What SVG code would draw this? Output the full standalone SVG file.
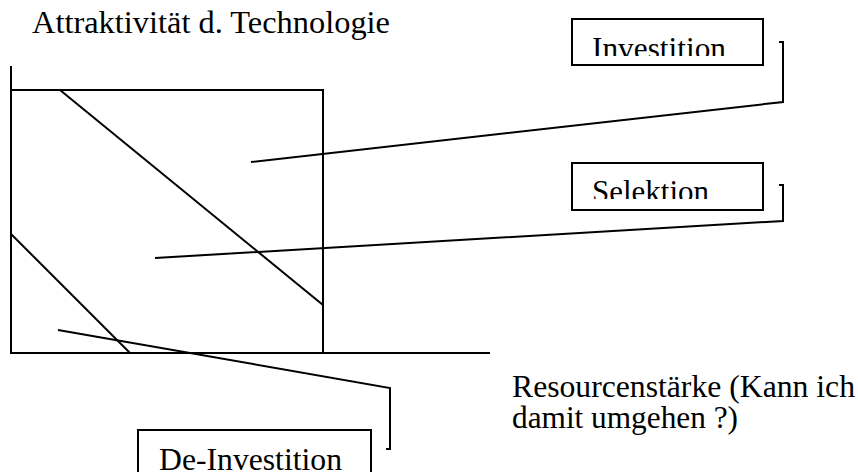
<svg xmlns="http://www.w3.org/2000/svg" width="858" height="472" viewBox="0 0 858 472">
<style>
  .ln { stroke: #000; stroke-width: 2; fill: none; }
  .bx { stroke: #000; stroke-width: 2; fill: #fff; }
  .t { font-family: 'Liberation Serif', 'Times New Roman', Times, serif; font-size: 32px; fill: #000; }
</style>
<defs>
  <clipPath id="cInv"><rect x="572" y="19" width="190" height="37"/></clipPath>
  <clipPath id="cSel"><rect x="572" y="163" width="190" height="36"/></clipPath>
  <clipPath id="cDe"><rect x="139" y="431" width="231" height="41"/></clipPath>
</defs>
<rect width="858" height="472" fill="#fff"/>
<g id="chart">
  <line class="ln" x1="11" y1="66" x2="11" y2="354"/>
  <line class="ln" x1="10" y1="353" x2="490" y2="353"/>
  <polyline class="ln" points="11,90 323,90 323,353"/>
  <line class="ln" x1="60" y1="90" x2="323" y2="305"/>
  <line class="ln" x1="11" y1="234" x2="130" y2="353"/>
</g>
<g id="labels">
  <text class="t" x="32" y="33" textLength="358" lengthAdjust="spacingAndGlyphs">Attraktivität d. Technologie</text>
  <text class="t" x="512" y="397" textLength="343" lengthAdjust="spacingAndGlyphs">Resourcenstärke (Kann ich</text>
  <text class="t" x="512" y="428" textLength="226" lengthAdjust="spacingAndGlyphs">damit umgehen ?)</text>
</g>
<g id="connectors">
  <polyline class="ln" points="251,162 783,102 783,42 779,42"/>
  <polyline class="ln" points="155,258 783,221 783,185 779,185"/>
  <polyline class="ln" points="58,330 390,388 390,449 386,449"/>
</g>
<g id="investition">
  <rect class="bx" x="572" y="19" width="191" height="46"/>
  <text class="t" x="592" y="59" textLength="134" lengthAdjust="spacingAndGlyphs" clip-path="url(#cInv)">Investition</text>
</g>
<g id="selektion">
  <rect class="bx" x="572" y="163" width="191" height="47"/>
  <text class="t" x="592" y="202" textLength="117" lengthAdjust="spacingAndGlyphs" clip-path="url(#cSel)">Selektion</text>
</g>
<g id="de-investition">
  <rect class="bx" x="138" y="430" width="233" height="50"/>
  <text class="t" x="159" y="470" textLength="183" lengthAdjust="spacingAndGlyphs" clip-path="url(#cDe)">De-Investition</text>
</g>
</svg>
